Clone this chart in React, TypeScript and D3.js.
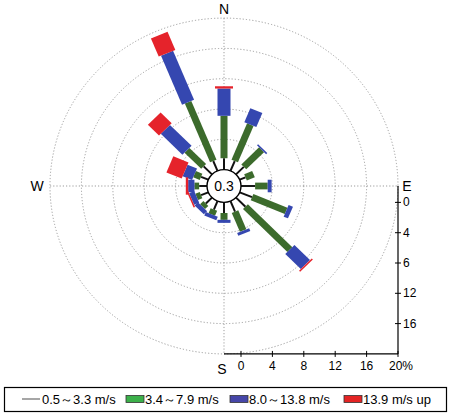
import React from 'react';
import * as d3 from 'd3';

const directions = ["N","NNE","NE","ENE","E","ESE","SE","SSE","S","SSW","SW","WSW","W","WNW","NW","NNW"];
const speedClasses = ["0.5～3.3 m/s", "3.4～7.9 m/s", "8.0～13.8 m/s", "13.9 m/s up"];
// frequency (%) of each speed class per direction
const light = [1.5, 1.4, 1.4, 0.8, 1.8, 1.7, 1.7, 1.5, 1.4, 1.2, 1.1, 1.0, 1.0, 1.0, 1.5, 1.4];
const moderate = [5.6, 5.2, 3.2, 1.1, 1.6, 4.7, 8.0, 2.7, 0.9, 0.7, 0.6, 0.6, 0.6, 0.9, 3.0, 8.4];
const strong = [3.6, 2.0, 0.2, 0, 0.5, 0.6, 2.8, 0.4, 0.4, 0.5, 0.6, 0.7, 0.8, 1.3, 3.9, 7.0];
const gale = [0.3, 0, 0, 0, 0, 0, 0.2, 0, 0, 0, 0, 0.2, 0.3, 2.1, 2.0, 2.6];
const calmLabel = "0.3";
const ringTicks = [4, 8, 12, 16, 20];
const bottomTicks = [0, 4, 8, 12, 16, 20];
const bottomTickLabels = ["0", "4", "8", "12", "16", "20%"];
const sideTicks = [0, 4, 8, 12, 16];
const sideTickLabels = ["0", "4", "6", "12", "16"];

const keys = ["light", "moderate", "strong", "gale"];
const barColors = ["#111111", "#3c6b2c", "#3547b0", "#e5232b"];
const barWidths = [2, 7, 13, 18];
const legendColors = ["#888888", "#3cb04a", "#4646a8", "#e42424"];

const FONT = '"Liberation Sans", Arial, sans-serif';

export default function App() {
  const cx = 224, cy = 186, sy = 0.965;
  const r = d3.scaleLinear().domain([0, 20]).range([17, 174]);
  const ang = d3.scaleLinear().domain([0, directions.length]).range([0, 360]);
  const rows = directions.map((d, i) => ({ dir: d, light: light[i], moderate: moderate[i], strong: strong[i], gale: gale[i] }));
  const stacked = d3.stack<any>().keys(keys)(rows);
  const xAxis = d3.scaleLinear().domain([0, 20]).range([cx + r(0), cx + r(20)]);
  const yAxis = d3.scaleLinear().domain([0, 20]).range([cy + r(0) * sy, cy + r(20) * sy]);
  const outer = r(20);
  const bottomY = yAxis(20);
  const rightX = xAxis(20);

  const legendItems = [
    { x: 22, kind: 'line' },
    { x: 126, kind: 'box' },
    { x: 230, kind: 'box' },
    { x: 344, kind: 'box' },
  ];

  return (
    <svg width={450} height={416} style={{ position: 'absolute', left: 0, top: 0, background: '#fff' }} fontFamily={FONT}>
      <g transform={`translate(${cx},${cy}) scale(1,${sy})`}>
        {ringTicks.map(t => (
          <circle key={t} r={r(t)} fill="none" stroke="#9a9a9a" strokeWidth={1} strokeDasharray="1.2,2" />
        ))}
        <line x1={0} x2={0} y1={-outer} y2={outer} stroke="#9a9a9a" strokeDasharray="1.2,2" />
        <line x1={-outer} x2={outer} y1={0} y2={0} stroke="#9a9a9a" strokeDasharray="1.2,2" />
        {stacked.map((layer, k) => (
          <g key={keys[k]}>
            {layer.map((seg, i) => {
              const v0 = seg[0], v1 = seg[1];
              if (v1 - v0 <= 0) return null;
              const w = barWidths[k];
              return (
                <rect key={i}
                  transform={`rotate(${ang(i)})`}
                  x={-w / 2} width={w}
                  y={-r(v1)} height={r(v1) - r(v0)}
                  fill={barColors[k]} />
              );
            })}
          </g>
        ))}
        <circle r={r(0)} fill="#fff" stroke="#000" strokeWidth={1.4} />
      </g>
      <text x={cx} y={cy} textAnchor="middle" dominantBaseline="central" fontSize={14}>{calmLabel}</text>

      <text x={cx} y={9} textAnchor="middle" dominantBaseline="central" fontSize={14}>N</text>
      <text x={37} y={cy} textAnchor="middle" dominantBaseline="central" fontSize={14}>W</text>
      <text x={407} y={cy} textAnchor="middle" dominantBaseline="central" fontSize={14}>E</text>
      <text x={222} y={369} textAnchor="middle" dominantBaseline="central" fontSize={14}>S</text>

      {/* bottom axis */}
      <line x1={cx} x2={rightX} y1={bottomY} y2={bottomY} stroke="#000" strokeWidth={1.2} />
      {bottomTicks.map((t, i) => (
        <g key={t}>
          <line x1={xAxis(t)} x2={xAxis(t)} y1={bottomY - 3} y2={bottomY + 3} stroke="#000" />
          <text x={xAxis(t) + (i === bottomTicks.length - 1 ? 3 : 0)} y={bottomY + 12} textAnchor="middle" dominantBaseline="central" fontSize={12}>{bottomTickLabels[i]}</text>
        </g>
      ))}
      {/* right axis */}
      <line x1={rightX} x2={rightX} y1={cy} y2={bottomY} stroke="#000" strokeWidth={1.2} />
      {sideTicks.map((t, i) => (
        <g key={t}>
          <line x1={rightX - 3} x2={rightX + 3} y1={yAxis(t)} y2={yAxis(t)} stroke="#000" />
          <text x={rightX + 5} y={yAxis(t)} dominantBaseline="central" fontSize={12}>{sideTickLabels[i]}</text>
        </g>
      ))}

      {/* legend */}
      <rect x={4.5} y={387.5} width={442} height={24} fill="none" stroke="#000" strokeWidth={1.2} />
      {legendItems.map((it, i) => (
        <g key={i}>
          {it.kind === 'line'
            ? <line x1={it.x} x2={it.x + 18} y1={399} y2={399} stroke={legendColors[i]} strokeWidth={1.5} />
            : <rect x={it.x} y={395.5} width={18} height={7} fill={legendColors[i]} stroke="#333" strokeWidth={0.8} />}
          <text x={it.x + (it.kind === 'line' ? 20 : 19)} y={399.5} dominantBaseline="central" fontSize={13}>{speedClasses[i]}</text>
        </g>
      ))}
    </svg>
  );
}
